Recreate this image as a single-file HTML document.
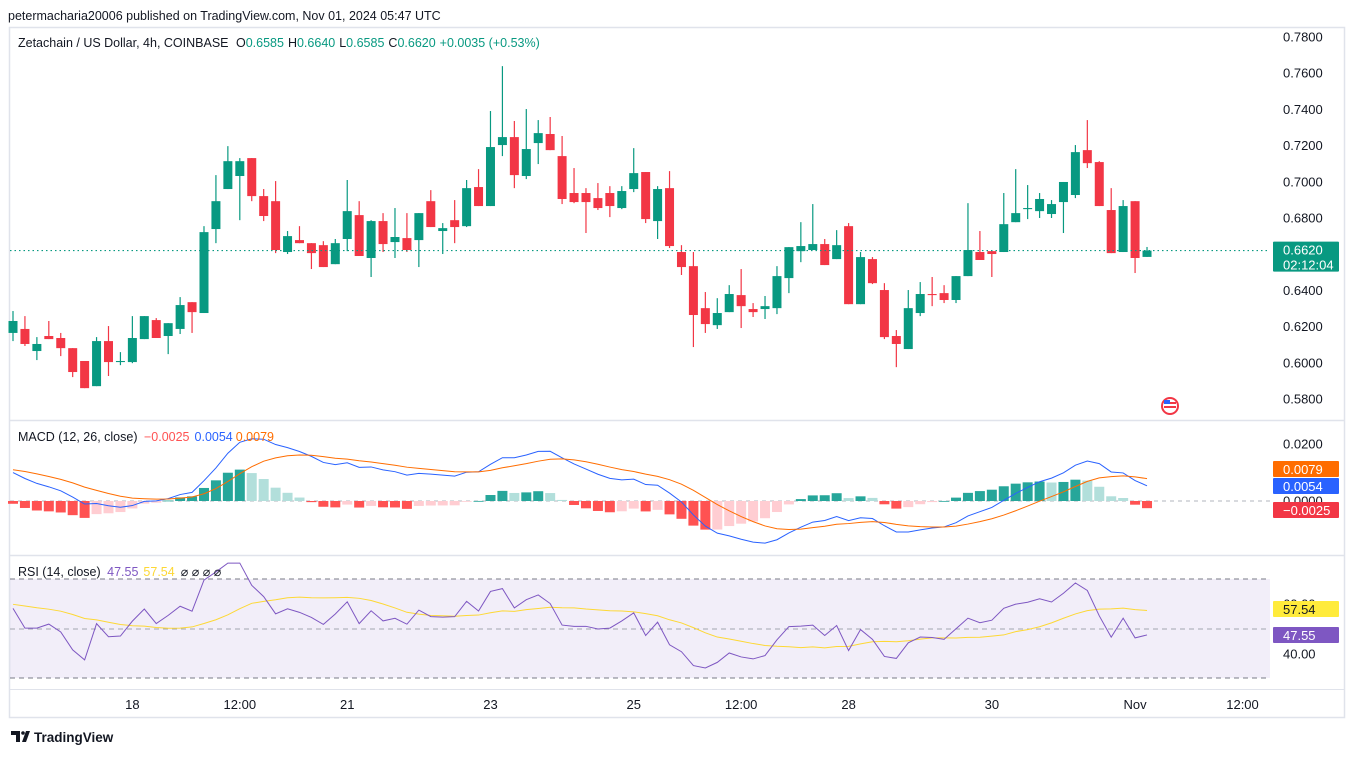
<!DOCTYPE html>
<html><head><meta charset="utf-8">
<style>
html,body{margin:0;padding:0;background:#fff;}
body{width:1355px;height:753px;overflow:hidden;font-family:"Liberation Sans",sans-serif;}
svg text{font-family:"Liberation Sans",sans-serif;}
</style></head>
<body>
<svg id="chart" width="1355" height="753" viewBox="0 0 1355 753" xmlns="http://www.w3.org/2000/svg">
  <text x="8" y="20" font-size="12.5" fill="#131722">petermacharia20006 published on TradingView.com, Nov 01, 2024 05:47 UTC</text>
  <rect x="9.5" y="27.5" width="1335" height="690" fill="none" stroke="#e0e3eb" stroke-width="1.5"/>
  <line x1="10" x2="1345" y1="420.5" y2="420.5" stroke="#e0e3eb" stroke-width="1.5"/>
  <line x1="10" x2="1345" y1="555.5" y2="555.5" stroke="#e0e3eb" stroke-width="1.5"/>
  <line x1="10" x2="1345" y1="689.5" y2="689.5" stroke="#e0e3eb" stroke-width="1"/>
  <rect x="10" y="579" width="1260" height="99" fill="#7e57c2" fill-opacity="0.1"/>
  <line x1="10" x2="1270" y1="579" y2="579" stroke="#787b86" stroke-dasharray="5,4"/>
  <line x1="10" x2="1270" y1="629" y2="629" stroke="#a3a6b0" stroke-dasharray="5,4"/>
  <line x1="10" x2="1270" y1="678" y2="678" stroke="#787b86" stroke-dasharray="5,4"/>
  <line x1="10" x2="1270" y1="501" y2="501" stroke="#b2b5be" stroke-dasharray="4,4"/>
  <g id="gCandles"></g>
  <g id="gMacd"></g>
  <g id="gRsi"></g>
  <g id="gAxes"></g>

  <text x="18" y="47" font-size="12.5" fill="#131722">Zetachain / US Dollar, 4h, COINBASE <tspan dx="4">O</tspan><tspan fill="#089981">0.6585</tspan><tspan dx="4">H</tspan><tspan fill="#089981">0.6640</tspan><tspan dx="4">L</tspan><tspan fill="#089981">0.6585</tspan><tspan dx="4">C</tspan><tspan fill="#089981">0.6620</tspan><tspan dx="4" fill="#089981">+0.0035 (+0.53%)</tspan></text>
  <text x="18" y="441" font-size="12.5" fill="#131722">MACD (12, 26, close) <tspan dx="3" fill="#ff5252">−0.0025</tspan><tspan dx="5" fill="#2962ff">0.0054</tspan><tspan dx="3" fill="#ff6d00">0.0079</tspan></text>
  <text x="18" y="576" font-size="12.5" fill="#131722">RSI (14, close) <tspan dx="3" fill="#7e57c2">47.55</tspan><tspan dx="5" fill="#fdd835">57.54</tspan><tspan dx="6">⌀ ⌀ ⌀ ⌀</tspan></text>

  <g>
    <circle cx="1170" cy="406" r="9" fill="#f23645"/>
    <circle cx="1170" cy="406" r="7" fill="#fff"/>
    <rect x="1164" y="402" width="12" height="2" fill="#f23645"/>
    <rect x="1164" y="406" width="12" height="2" fill="#f23645"/>
    <rect x="1164" y="400" width="6" height="4" fill="#2962ff"/>
  </g>

  <g>
    <path d="M11 731h9v11h-4v-7h-5z M22 742l4-11h4l-4 11z" fill="#131722"/>
    <circle cx="23" cy="733" r="1.8" fill="#131722"/>
    <text x="34" y="742" font-size="13.5" font-weight="bold" fill="#131722">TradingView</text>
  </g>
</svg>
<script>
// ---- data (Zetachain / USD, 4h candles) ----
const opens = [.6165,.6187,.6065,.6148,.6137,.6081,.6010,.5871,.6120,.6004,
.6004,.6131,.6236,.6148,.6187,.6335,.6275,.6739,.6960,.7032,
.7131,.6921,.6893,.6612,.6678,.6661,.6650,.6545,.6684,.6816,
.6579,.6783,.6667,.6689,.6678,.6893,.6728,.6788,.6755,.6971,
.6866,.7203,.7247,.7032,.7214,.7264,.7142,.6938,.6938,.6910,
.6938,.6855,.6960,.7054,.6783,.6965,.6612,.6534,.6302,.6208,
.6280,.6374,.6297,.6297,.6302,.6468,.6617,.6623,.6656,.6573,
.6755,.6324,.6573,.6402,.6148,.6076,.6275,.6380,.6385,.6347,
.6479,.6612,.6617,.6612,.6777,.6849,.6838,.6822,.6888,.6927,
.7175,.7109,.6844,.6612,.6893,.6585];
const highs = [.6286,.6258,.6142,.6231,.6165,.6081,.6010,.6142,.6203,.6059,
.6258,.6258,.6247,.6219,.6363,.6335,.6755,.7037,.7197,.7131,
.7131,.6960,.7004,.6728,.6755,.6661,.6672,.6684,.7010,.6893,
.6788,.6827,.6855,.6827,.6827,.6954,.6772,.6899,.7010,.7070,
.7391,.7639,.7336,.7402,.7341,.7358,.7253,.7076,.6965,.6993,
.6976,.6976,.7186,.7054,.6976,.7059,.6650,.6612,.6391,.6357,
.6429,.6518,.6330,.6369,.6534,.6639,.6777,.6877,.6684,.6733,
.6772,.6612,.6584,.6440,.6181,.6402,.6446,.6474,.6429,.6479,
.6882,.6728,.6617,.6938,.7070,.6982,.6938,.6899,.6999,.7203,
.7341,.7114,.6965,.6899,.6893,.6640];
const lows = [.6120,.6093,.6015,.6131,.6037,.5921,.5860,.5871,.5927,.5987,
.5998,.6131,.6137,.6048,.6159,.6165,.6275,.6661,.6960,.6788,
.6893,.6783,.6606,.6601,.6661,.6518,.6529,.6545,.6617,.6590,
.6474,.6612,.6579,.6612,.6529,.6750,.6601,.6661,.6750,.6866,
.6866,.7142,.6965,.7015,.7098,.7175,.6877,.6882,.6717,.6844,
.6805,.6849,.6943,.6772,.6684,.6634,.6485,.6087,.6165,.6187,
.6280,.6192,.6253,.6242,.6269,.6385,.6556,.6623,.6540,.6573,
.6324,.6324,.6435,.6131,.5976,.6076,.6258,.6313,.6330,.6330,
.6479,.6568,.6474,.6612,.6777,.6794,.6800,.6800,.6717,.6910,
.7076,.6866,.6606,.6612,.6496,.6585];
const closes = [.6231,.6104,.6104,.6131,.6081,.5949,.5860,.6120,.6004,.6010,
.6137,.6258,.6137,.6219,.6319,.6280,.6722,.6893,.7114,.7114,
.6921,.6811,.6623,.6700,.6661,.6606,.6529,.6661,.6838,.6590,
.6783,.6656,.6695,.6623,.6827,.6750,.6744,.6750,.6965,.6866,
.7192,.7247,.7037,.7181,.7269,.7175,.6905,.6888,.6888,.6855,
.6866,.6949,.7048,.6794,.6960,.6645,.6529,.6264,.6214,.6275,
.6380,.6313,.6280,.6313,.6479,.6639,.6645,.6656,.6540,.6650,
.6324,.6584,.6440,.6142,.6104,.6302,.6380,.6374,.6347,.6479,
.6623,.6568,.6601,.6766,.6827,.6855,.6905,.6877,.6999,.7164,
.7103,.6866,.6606,.6866,.6579,.6620];
const priceTicks = [0.78,0.76,0.74,0.72,0.70,0.68,0.64,0.62,0.60,0.58];
const timeTickIdx = [10,19,28,40,52,61,70,82,94,103];
const timeTickLabels = ["18","12:00","21","23","25","12:00","28","30","Nov","12:00"];
const macdTicks = [0.02,0.0];
const rsiTicks = [60,40];
// indicator state carried in from history before the visible window
const priorEma12 = 0.6280, priorEma26 = 0.6168, priorSignal = 0.0112;
const priorAvgGain = 0.0034, priorAvgLoss = 0.0028, priorRsiMa = 60;

// ---- axis functions ----
const NS = "http://www.w3.org/2000/svg";
const xOf = i => 13 + i * 11.937;
const yPrice = p => 37 + (0.78 - p) * 1810;
const yMacd = v => 501 - v * 2850;
const yRsi = r => 629 - (r - 50) * 2.5;
function mk(tag, attrs, parent){ const e=document.createElementNS(NS,tag); for(const k in attrs) e.setAttribute(k,attrs[k]); parent.appendChild(e); return e; }

const gC = document.getElementById('gCandles');
const gM = document.getElementById('gMacd');
const gR = document.getElementById('gRsi');
const gA = document.getElementById('gAxes');

// candles
for (let i=0;i<closes.length;i++){
  const up = closes[i] >= opens[i];
  const col = up ? '#089981' : '#f23645';
  const x = xOf(i);
  const w = mk('line',{x1:x,x2:x,y1:yPrice(highs[i]),y2:yPrice(lows[i]),stroke:col,'stroke-width':1.2},gC);
  
  
  const top = yPrice(Math.max(opens[i],closes[i])), bot = yPrice(Math.min(opens[i],closes[i]));
  const b = mk('rect',{x:x-4.5,y:top,width:9,height:Math.max(1,bot-top),fill:col},gC);
  
  
}
// last price line
const lastY = yPrice(closes[closes.length-1]);
const pl = mk('line',{x1:10,x2:1270,y1:lastY,y2:lastY,stroke:'#089981','stroke-dasharray':'1.5,3','stroke-width':1.2},gC);



// MACD
let e12=priorEma12,e26=priorEma26,sig=priorSignal;
const k12=2/13,k26=2/27,k9=2/10;
const macd=[],signal=[],hist=[];
for (let i=0;i<closes.length;i++){
  e12 = closes[i]*k12 + e12*(1-k12);
  e26 = closes[i]*k26 + e26*(1-k26);
  const m = e12-e26;
  sig = m*k9 + sig*(1-k9);
  macd.push(m); signal.push(sig); hist.push(m-sig);
}
let prevH = priorSignal*0;
for (let i=0;i<hist.length;i++){
  const h=hist[i]; const ph = i? hist[i-1] : prevH;
  let col;
  if (h>=0) col = h>=ph ? '#26a69a' : '#b2dfdb'; else col = h<ph ? '#ff5252' : '#ffcdd2';
  const y0=yMacd(0), y1=yMacd(h);
  const r = mk('rect',{x:xOf(i)-5,y:Math.min(y0,y1),width:10,height:Math.max(0.8,Math.abs(y1-y0)),fill:col},gM);
  
  
}
const ml = mk('polyline',{points:macd.map((v,i)=>xOf(i)+','+yMacd(v)).join(' '),fill:'none',stroke:'#2962ff','stroke-width':1},gM);


const sl = mk('polyline',{points:signal.map((v,i)=>xOf(i)+','+yMacd(v)).join(' '),fill:'none',stroke:'#ff6d00','stroke-width':1},gM);



// RSI
let ag=priorAvgGain, al=priorAvgLoss, prevC=closes[0]-0.0066;
const rsi=[], rsiMa=[]; const buf=[]; for(let j=0;j<13;j++) buf.push(priorRsiMa);
for (let i=0;i<closes.length;i++){
  const d = closes[i]-prevC; prevC=closes[i];
  ag = (ag*13 + Math.max(d,0))/14; al = (al*13 + Math.max(-d,0))/14;
  const r = 100 - 100/(1+ag/al);
  rsi.push(r); buf.push(r); if(buf.length>14) buf.shift();
  rsiMa.push(buf.reduce((a,b)=>a+b,0)/buf.length);
}
const rmal = mk('polyline',{points:rsiMa.map((v,i)=>xOf(i)+','+yRsi(v)).join(' '),fill:'none',stroke:'#fdd835','stroke-width':1},gR);


const rl = mk('polyline',{points:rsi.map((v,i)=>xOf(i)+','+yRsi(v)).join(' '),fill:'none',stroke:'#7e57c2','stroke-width':1},gR);



// axes labels
priceTicks.forEach(p=>{
  const t = mk('text',{x:1283,y:yPrice(p)+4.5,'font-size':13,fill:'#131722'},gA);
  t.textContent = p.toFixed(4);
  
  
});
macdTicks.forEach(v=>{
  const t = mk('text',{x:1283,y:yMacd(v)+4.5,'font-size':13,fill:'#131722'},gA);
  t.textContent = v.toFixed(4);
  
  
});
rsiTicks.forEach(v=>{
  const t = mk('text',{x:1283,y:yRsi(v)+4.5,'font-size':13,fill:'#131722'},gA);
  t.textContent = v.toFixed(2);
  
  
});
timeTickIdx.forEach((idx,k)=>{
  const t = mk('text',{x:xOf(idx),y:709,'font-size':13,fill:'#131722','text-anchor':'middle'},gA);
  t.textContent = timeTickLabels[k];
  
  
});
function badge(y,h,bg,fg,lines,name){
  const g = mk('g',{},gA);
  
  
  mk('rect',{x:1273,y:y-h/2,width:66,height:h,fill:bg,rx:1},g);
  lines.forEach((s,j)=>{ const t=mk('text',{x:1283,y:y-h/2+13+j*15,'font-size':13,fill:fg},g); t.textContent=s; });
}
badge(lastY+6,30,'#089981','#fff',[closes[closes.length-1].toFixed(4),'02:12:04'],'last-price-badge');
badge(469,16,'#ff6d00','#fff',['0.0079'],'macd-signal-badge');
badge(486,16,'#2962ff','#fff',['0.0054'],'macd-value-badge');
badge(510,16,'#f23645','#fff',['−0.0025'],'macd-histogram-badge');
badge(609,16,'#ffeb3b','#131722',['57.54'],'rsi-ma-badge');
badge(635,16,'#7e57c2','#fff',['47.55'],'rsi-value-badge');
</script>
</body></html>
